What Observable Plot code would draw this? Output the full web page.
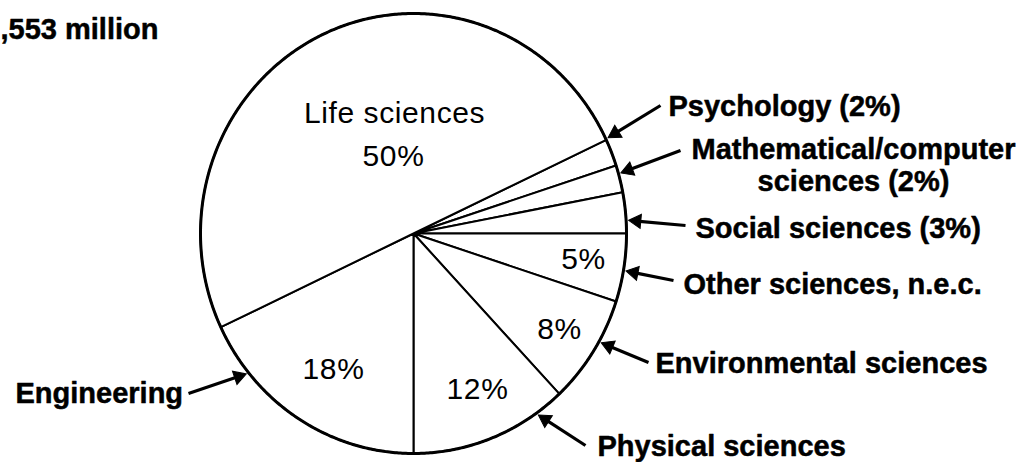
<!DOCTYPE html>
<html><head><meta charset="utf-8">
<script src="https://cdn.jsdelivr.net/npm/d3@7"></script>
<script src="https://cdn.jsdelivr.net/npm/@observablehq/plot@0.6"></script>
<style>
html,body{margin:0;padding:0;background:#fff;}
#chart{width:1028px;height:462px;overflow:hidden;}
.inner text{letter-spacing:0.6px;}
</style></head>
<body><div id="chart"></div>
<script>
// ---- data ----
const fields = ["Psychology", "Mathematical/computer sciences", "Social sciences", "Other sciences, n.e.c.", "Environmental sciences", "Physical sciences", "Engineering", "Life sciences"];
const shares = [2, 2, 3, 5, 8, 12, 18, 50];
const totalLabel = ",553 million";
const shareShownOutside = ["Psychology", "Mathematical/computer sciences", "Social sciences"];
const shareShownInside = ["Life sciences", "Other sciences, n.e.c.", "Environmental sciences", "Physical sciences", "Engineering"];

// ---- layout ----
const W = 1028, H = 462;
const CX = 413, CY = 233, RX = 213, RY = 220;
const FONT = "Liberation Sans, Arial, Helvetica, sans-serif";
const outerLayout = {
  "Psychology": {x: 668, y: 115, anchor: "start", tip: 64.5, tail: [660, 105]},
  "Mathematical/computer sciences": {x: 853, y: 158, anchor: "middle", tip: 74.2, tail: [680, 150], split: true},
  "Social sciences": {x: 695, y: 237, anchor: "start", tip: 86.6, tail: [685, 225]},
  "Other sciences, n.e.c.": {x: 683, y: 293, anchor: "start", tip: 99.7, tail: [673, 280]},
  "Environmental sciences": {x: 655, y: 372, anchor: "start", tip: 119.4, tail: [648, 362]},
  "Physical sciences": {x: 597, y: 455, anchor: "start", tip: 144.6, tail: [585, 445]},
  "Engineering": {x: 15, y: 402, anchor: "start", tip: 230.9, tail: [188, 393]}
};
const innerLayout = {
  "Life sciences": {x: 394, y: 122, withName: true, y2: 165},
  "Other sciences, n.e.c.": {x: 583, y: 268},
  "Environmental sciences": {x: 559, y: 338},
  "Physical sciences": {x: 477, y: 398},
  "Engineering": {x: 333, y: 378}
};
const HEAD_R = 5.2;

// ---- geometry from data ----
const total = d3.sum(shares);
const physIdx = fields.indexOf("Physical sciences");
let angle = 180 - 360 * d3.sum(shares.slice(0, physIdx + 1)) / total;
const slices = fields.map((f, i) => {
  const a0 = angle, a1 = angle + 360 * shares[i] / total;
  angle = a1;
  return {field: f, share: shares[i], a0, a1};
});
const rad = (deg) => deg * Math.PI / 180;
const pt = (deg, r = 1) => ({x: CX + RX * r * Math.sin(rad(deg)), y: CY - RY * r * Math.cos(rad(deg))});

const slicePts = [];
for (const s of slices) {
  slicePts.push({field: s.field, ...pt(0, 0)});
  const n = Math.max(2, Math.ceil((s.a1 - s.a0) / 0.5));
  for (let k = 0; k <= n; k++) slicePts.push({field: s.field, ...pt(s.a0 + (s.a1 - s.a0) * k / n)});
}
const circlePts = d3.range(0, 360, 0.5).map(a => pt(a));

const shareOf = (f) => shares[fields.indexOf(f)];

// outer labels & arrows
const outerText = [];
const arrows = [];
// centroid-to-tip distance of a d3 triangle symbol of radius r (area = pi r^2)
const triSide = Math.sqrt(Math.PI * HEAD_R * HEAD_R / (Math.sqrt(3) / 4));
const tipOffset = triSide * Math.sqrt(3) / 2 * 2 / 3;
for (const f of fields) {
  const L = outerLayout[f];
  if (!L) continue;
  let txt = shareShownOutside.includes(f) ? `${f} (${shareOf(f)}%)` : f;
  let lines = [txt];
  if (L.split) {
    const cut = txt.indexOf(" ");
    lines = [txt.slice(0, cut), txt.slice(cut + 1)];
  }
  lines.forEach((t, i) => outerText.push({text: t, x: L.x, y: L.y + i * 32, anchor: L.anchor}));
  const tip = pt(L.tip, 1.012);
  const dx = tip.x - L.tail[0], dy = tip.y - L.tail[1];
  const len = Math.hypot(dx, dy);
  const hx = tip.x - dx / len * tipOffset, hy = tip.y - dy / len * tipOffset;
  arrows.push({x1: L.tail[0], y1: L.tail[1], x2: hx, y2: hy, rot: Math.atan2(dx, -dy) * 180 / Math.PI});
}
// inner labels
const innerText = [];
for (const f of shareShownInside) {
  const L = innerLayout[f];
  if (L.withName) {
    innerText.push({text: f, x: L.x, y: L.y});
    innerText.push({text: `${shareOf(f)}%`, x: L.x - 1, y: L.y2});
  } else {
    innerText.push({text: `${shareOf(f)}%`, x: L.x, y: L.y});
  }
}

const boldText = {x: "x", y: "y", text: "text", lineAnchor: "bottom", fontSize: 29, fontWeight: "bold", fontFamily: FONT, fill: "black", stroke: "black", strokeWidth: 0.5};

const chart = Plot.plot({
  width: W, height: H, margin: 0,
  style: {background: "#fff", fontFamily: FONT},
  x: {domain: [0, W], range: [0, W], axis: null},
  y: {domain: [0, H], range: [0, H], axis: null},
  marks: [
    Plot.line(slicePts, {x: "x", y: "y", z: "field", curve: "linear-closed", fill: "white", stroke: "black", strokeWidth: 2}),
    Plot.line(circlePts, {x: "x", y: "y", curve: "linear-closed", stroke: "black", strokeWidth: 3}),
    Plot.link(arrows, {x1: "x1", y1: "y1", x2: "x2", y2: "y2", stroke: "black", strokeWidth: 3.2}),
    Plot.dot(arrows, {x: "x2", y: "y2", symbol: "triangle", r: HEAD_R, rotate: "rot", fill: "black", stroke: "black", strokeWidth: 1}),
    Plot.text(outerText.filter(d => d.anchor === "start"), {...boldText, textAnchor: "start"}),
    Plot.text(outerText.filter(d => d.anchor === "middle"), {...boldText, textAnchor: "middle"}),
    Plot.text(innerText, {x: "x", y: "y", text: "text", textAnchor: "middle", lineAnchor: "bottom", fontSize: 30, fontFamily: FONT, fill: "black", className: "inner"}),
    Plot.text([{text: totalLabel, x: 0, y: 38}], {...boldText, textAnchor: "start"})
  ]
});
document.getElementById("chart").appendChild(chart);
</script>
</body></html>
